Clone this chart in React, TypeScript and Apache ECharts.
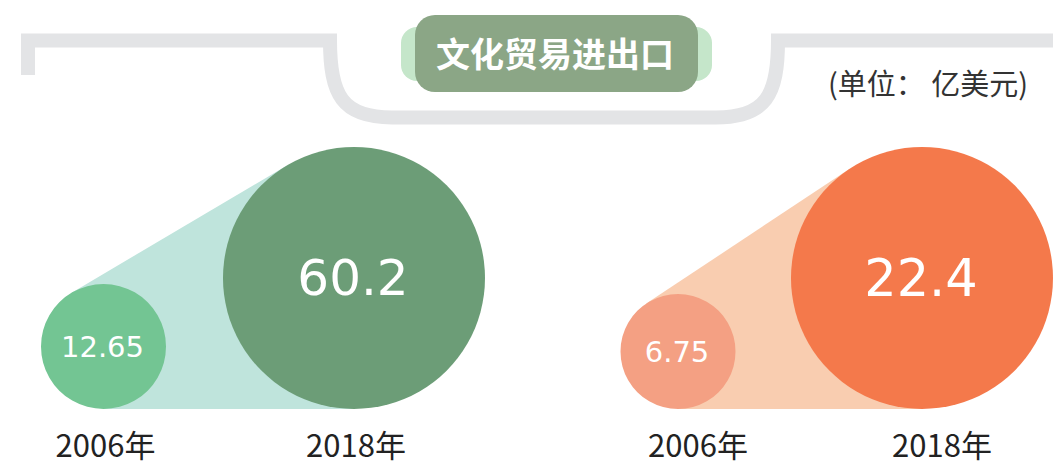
import React, { useEffect, useRef } from "react";
import * as echarts from "echarts";

// ---- data ----
const years = ["2006年", "2018年"];
const importExportA = [12.65, 60.2]; // left panel (green)
const importExportB = [6.75, 22.4]; // right panel (orange)
const titleText = "文化贸易进出口";
const unitText = "(单位： 亿美元)";

// ---- styles ----
const FRAME_D =
  "M28 75 L28 40.5 L330 40.5 C330 95 342 117.5 392 117.5 L716 117.5 C766 117.5 778 95 778 40.5 L1060 40.5";
let registered = false;
function registerFrame() {
  if (registered) return;
  registered = true;
  echarts.graphic.registerShape("frameLine", echarts.graphic.extendPath(FRAME_D, {}) as any);
}

const leftStyle = {
  radii: [62.5, 131],
  colors: ["#73c593", "#6c9d77"],
  cone: "#bfe4dc",
  fonts: [29, 50],
};
const rightStyle = {
  radii: [57.5, 131],
  colors: ["#f4a083", "#f4794b"],
  cone: "#f9cdb0",
  fonts: [29, 51],
};

const numFont = "'DejaVu Sans', sans-serif";
const cjkFont = "'Noto Sans CJK SC', sans-serif";

function circleRenderer(st: typeof leftStyle, values: number[]) {
  return (params: any, api: any) => {
    const i = api.value(0);
    const pt = api.coord([i, 0]);
    const r = st.radii[i];
    const cx = pt[0];
    const cy = pt[1] - r;
    return {
      type: "group",
      children: [
        { type: "circle", shape: { cx, cy, r }, style: { fill: st.colors[i] } },
        {
          type: "text",
          x: cx - 1,
          y: cy,
          style: {
            text: String(values[i]),
            fill: "#ffffff",
            fontSize: st.fonts[i],
            fontFamily: numFont,
            align: "center",
            verticalAlign: "middle",
          },
        },
      ],
    };
  };
}

function coneRenderer(st: typeof leftStyle) {
  return (params: any, api: any) => {
    const p1 = api.coord([0, 0]);
    const p2 = api.coord([1, 0]);
    const r1 = st.radii[0];
    const r2 = st.radii[1];
    const c1 = [p1[0], p1[1] - r1];
    const c2 = [p2[0], p2[1] - r2];
    const dx = c2[0] - c1[0];
    const dy = c2[1] - c1[1];
    const len = Math.sqrt(dx * dx + dy * dy);
    const ux = dx / len;
    const uy = dy / len;
    const reflect = (p: number[]) => {
      const t = (p[0] - c1[0]) * ux + (p[1] - c1[1]) * uy;
      const fx = c1[0] + t * ux;
      const fy = c1[1] + t * uy;
      return [2 * fx - p[0], 2 * fy - p[1]];
    };
    const t1 = [p1[0], p1[1]];
    const t2 = [p2[0], p2[1]];
    const u1 = reflect(t1);
    const u2 = reflect(t2);
    return {
      type: "polygon",
      shape: { points: [t1, t2, u2, u1] },
      style: { fill: st.cone },
    };
  };
}

function axisFor(gridIndex: number, padLeft: number) {
  return {
    type: "category",
    gridIndex,
    data: years,
    boundaryGap: false,
    axisLine: { show: false },
    axisTick: { show: false },
    splitLine: { show: false },
    axisLabel: {
      interval: 0,
      fontSize: 31,
      lineHeight: 31,
      color: "#222222",
      fontFamily: cjkFont,
      margin: 19,
      padding: [0, 0, 0, padLeft],
    },
  };
}

export default function App() {
  const ref = useRef<HTMLDivElement>(null);
  useEffect(() => {
    if (!ref.current) return;
    registerFrame();
    const chart = echarts.init(ref.current, undefined, { renderer: "svg" });
    chart.setOption({
      animation: false,
      backgroundColor: "#ffffff",
      grid: [
        { left: 103.5, right: 699, top: 140, bottom: 56 },
        { left: 678, right: 131, top: 140, bottom: 56 },
      ],
      xAxis: [axisFor(0, 4), axisFor(1, 40)],
      yAxis: [
        { type: "value", gridIndex: 0, min: 0, max: 100, show: false },
        { type: "value", gridIndex: 1, min: 0, max: 100, show: false },
      ],
      series: [
        {
          type: "custom",
          name: "coneA",
          xAxisIndex: 0,
          yAxisIndex: 0,
          z: 1,
          clip: false,
          silent: true,
          data: [[0, 0]],
          renderItem: coneRenderer(leftStyle),
        },
        {
          type: "custom",
          name: "文化贸易进出口A",
          xAxisIndex: 0,
          yAxisIndex: 0,
          z: 2,
          clip: false,
          data: importExportA.map((v, i) => [i, v]),
          renderItem: circleRenderer(leftStyle, importExportA),
        },
        {
          type: "custom",
          name: "coneB",
          xAxisIndex: 1,
          yAxisIndex: 1,
          z: 1,
          clip: false,
          silent: true,
          data: [[0, 0]],
          renderItem: coneRenderer(rightStyle),
        },
        {
          type: "custom",
          name: "文化贸易进出口B",
          xAxisIndex: 1,
          yAxisIndex: 1,
          z: 2,
          clip: false,
          data: importExportB.map((v, i) => [i, v]),
          renderItem: circleRenderer(rightStyle, importExportB),
        },
      ],
      graphic: [
        {
          type: "frameLine",
          x: 0,
          y: 0,
          silent: true,
          style: { fill: "none", stroke: "#e3e4e6", lineWidth: 14, lineJoin: "miter" },
        },
        {
          type: "rect",
          shape: { x: 401, y: 27, width: 311, height: 54, r: 16 },
          style: { fill: "#c5e6ca" },
        },
        {
          type: "rect",
          shape: { x: 415, y: 15, width: 283, height: 77, r: 20 },
          style: { fill: "#8ba686" },
        },
        {
          type: "text",
          x: 555,
          y: 52,
          style: {
            text: titleText,
            fill: "#ffffff",
            fontSize: 34,
            fontWeight: "bold",
            fontFamily: cjkFont,
            align: "center",
            verticalAlign: "middle",
          },
        },
        {
          type: "text",
          x: 1028,
          y: 82,
          style: {
            text: unitText,
            fill: "#333333",
            fontSize: 29,
            fontFamily: cjkFont,
            align: "right",
            verticalAlign: "middle",
          },
        },
      ],
    });
    return () => chart.dispose();
  }, []);
  return (
    <div
      ref={ref}
      style={{ position: "fixed", left: 0, top: 0, width: 1053, height: 465 }}
    />
  );
}
